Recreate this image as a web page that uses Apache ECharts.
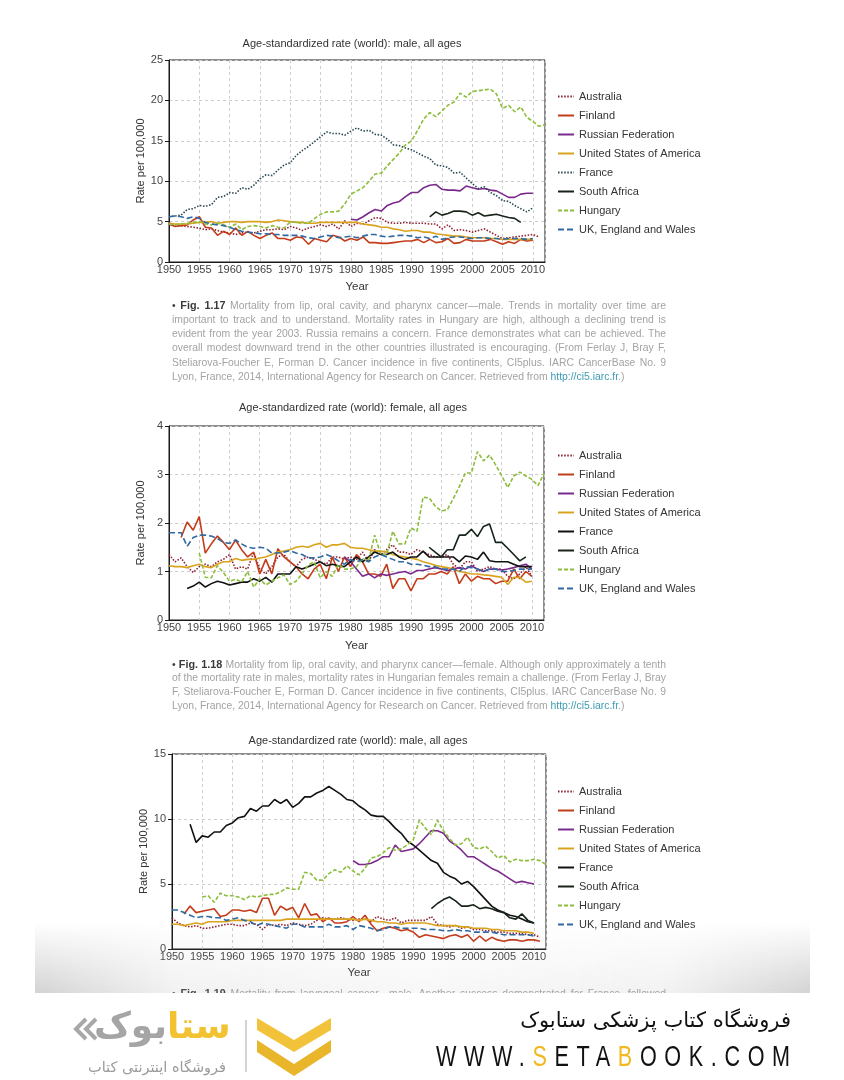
<!DOCTYPE html>
<html>
<head>
<meta charset="utf-8">
<script src="https://cdn.jsdelivr.net/npm/echarts@6/dist/echarts.min.js"></script>
<style>
  html,body{margin:0;padding:0;background:#fff;}
  body{width:844px;height:1080px;position:relative;overflow:hidden;font-family:"Liberation Sans",Arial,sans-serif;}
  .chart{position:absolute;left:0;width:844px;}
  .cap{position:absolute;left:172px;width:494px;height:14px;line-height:14px;font-size:10.4px;color:#a3a3a3;
       text-align:justify;text-align-last:justify;white-space:nowrap;overflow:visible;font-family:"Liberation Sans",Arial,sans-serif;}
  .cap.last{text-align-last:left;}
  .cap b{color:#3a3a3a;font-weight:bold;font-size:10.8px;}
  .cap .bul{color:#3a3a3a;}
  .cap a{color:#3d9bb3;text-decoration:none;}
  #shade{position:absolute;left:35px;top:922px;width:775px;height:71px;pointer-events:none;
     background:linear-gradient(to right, rgba(150,150,150,0.42) 0%, rgba(170,170,170,0.16) 18%, rgba(180,180,180,0.10) 50%, rgba(170,170,170,0.16) 82%, rgba(150,150,150,0.42) 100%);
     -webkit-mask-image:linear-gradient(to bottom, rgba(0,0,0,0) 0%, rgba(0,0,0,0.55) 55%, rgba(0,0,0,1) 100%);
     mask-image:linear-gradient(to bottom, rgba(0,0,0,0) 0%, rgba(0,0,0,0.55) 55%, rgba(0,0,0,1) 100%);}
  #footer{position:absolute;left:0;top:993px;width:844px;height:87px;background:#fff;}
  #fa1{position:absolute;right:53px;top:15px;font-size:21px;color:#111;direction:rtl;font-family:"DejaVu Sans",sans-serif;white-space:nowrap;}
  #www{position:absolute;left:436px;top:48px;font-size:30px;line-height:30px;color:#111;letter-spacing:10.6px;font-family:"Liberation Sans",Arial,sans-serif;white-space:nowrap;transform:scaleX(0.72);transform-origin:0 0;}
  #www span{color:#f0b920;}
  #logo1{position:absolute;left:94px;top:12px;font-size:36px;font-weight:bold;direction:rtl;font-family:"DejaVu Sans",sans-serif;white-space:nowrap;}
  #logo2{position:absolute;left:88px;top:66px;font-size:14.5px;color:#9a9a9a;direction:rtl;font-family:"DejaVu Sans",sans-serif;white-space:nowrap;}
</style>
</head>
<body>
<div id="c1" class="chart" style="top:30px;height:270px;"></div>
<div id="c2" class="chart" style="top:395px;height:265px;"></div>
<div id="c3" class="chart" style="top:728px;height:262px;"></div>

<div class="cap" style="top:298px;"><span class="bul">•</span> <b>Fig. 1.17</b> Mortality from lip, oral cavity, and pharynx cancer—male. Trends in mortality over time are</div>
<div class="cap" style="top:313px;">important to track and to understand. Mortality rates in Hungary are high, although a declining trend is</div>
<div class="cap" style="top:327px;">evident from the year 2003. Russia remains a concern. France demonstrates what can be achieved. The</div>
<div class="cap" style="top:341px;">overall modest downward trend in the other countries illustrated is encouraging. (From Ferlay J, Bray F,</div>
<div class="cap" style="top:356px;">Steliarova-Foucher E, Forman D. Cancer incidence in five continents, CI5plus. IARC CancerBase No. 9</div>
<div class="cap last" style="top:370px;">Lyon, France, 2014, International Agency for Research on Cancer. Retrieved from <a>http://ci5.iarc.fr</a>.)</div>

<div class="cap" style="top:657px;"><span class="bul">•</span> <b>Fig. 1.18</b> Mortality from lip, oral cavity, and pharynx cancer—female. Although only approximately a tenth</div>
<div class="cap" style="top:671px;">of the mortality rate in males, mortality rates in Hungarian females remain a challenge. (From Ferlay J, Bray</div>
<div class="cap" style="top:685px;">F, Steliarova-Foucher E, Forman D. Cancer incidence in five continents, CI5plus. IARC CancerBase No. 9</div>
<div class="cap last" style="top:699px;">Lyon, France, 2014, International Agency for Research on Cancer. Retrieved from <a>http://ci5.iarc.fr</a>.)</div>

<div class="cap" style="top:986px;"><span class="bul">•</span> <b>Fig. 1.19</b> Mortality from laryngeal cancer—male. Another success demonstrated for France, followed</div>

<div id="shade"></div>

<div id="footer">
  <svg width="844" height="87" style="position:absolute;left:0;top:0;">
    <polyline points="86,26 76,36 86,46" fill="none" stroke="#a8a8a8" stroke-width="4"/>
    <polyline points="96,26 86,36 96,46" fill="none" stroke="#a8a8a8" stroke-width="4"/>
    <line x1="246" y1="27" x2="246" y2="79" stroke="#c4c4c4" stroke-width="1.5"/>
    <polygon points="257,25 294,47 331,25 331,37 294,59 257,37" fill="#f2c33a"/>
    <polygon points="257,47 294,71 331,47 331,59 294,83 257,59" fill="#e9b52a"/>
  </svg>
  <div id="logo1"><span style="color:#f2c230">ستا</span><span style="color:#a5a5a5">بوک</span></div>
  <div id="logo2">فروشگاه اینترنتی کتاب</div>
  <div id="fa1">فروشگاه کتاب پزشکی ستابوک</div>
  <div id="www">WWW.<span>S</span>ETA<span>B</span>OOK.COM</div>
</div>

<script>
// ---------- Data: Fig 1.17 (male, lip/oral cavity/pharynx) ----------
const m1_australia_start = 1950;
const m1_australia = [4.8,4.6,4.5,4.4,4.3,4.2,4.0,4.1,3.9,3.7, 3.6,3.4,3.6,3.7,3.6,3.8,4.0,4.0,4.1,4.0, 4.4,4.2,3.9,4.2,4.4,4.6,4.4,4.7,4.1,5.1, 4.4,4.8,4.7,5.1,5.5,5.4,4.9,4.8,4.8,4.9, 4.8,4.8,4.8,4.7,4.7,4.1,4.6,3.9,4.0,3.9, 3.7,3.9,4.1,3.7,3.3,2.9,3.0,3.1,3.2,3.3, 3.4,3.1];
const m1_finland_start = 1950;
const m1_finland = [4.7,4.4,4.5,4.6,5.2,5.6,4.3,4.2,3.3,3.8, 3.4,4.2,3.3,3.8,3.3,2.9,3.3,3.6,2.9,2.9, 2.7,3.1,3.0,2.2,2.9,2.7,2.5,3.3,3.1,2.6, 2.9,2.7,3.1,2.4,2.4,2.3,2.3,2.4,2.5,2.6, 2.6,2.8,2.4,2.8,2.4,2.5,2.9,2.3,2.4,2.8, 2.6,2.6,2.6,2.8,2.5,2.2,2.5,2.3,2.8,2.6, 2.7];
const m1_russia_start = 1980;
const m1_russia = [5.3,5.2,5.6,6.1,6.5,6.3,7.0,7.3,7.5,8.1, 8.6,8.6,9.2,9.5,9.6,9.0,8.9,8.9,8.8,9.4, 9.2,9.0,9.1,8.9,8.8,8.4,8.0,8.0,8.4,8.5, 8.5];
const m1_usa_start = 1950;
const m1_usa = [4.8,4.7,4.7,4.7,4.8,4.9,4.9,5.0,4.8,4.9, 5.0,5.0,4.9,5.0,5.0,5.0,4.9,5.0,5.2,5.1, 5.0,4.9,4.9,4.8,4.8,4.9,4.9,4.9,4.9,4.9, 4.9,4.9,4.7,4.6,4.5,4.3,4.3,4.1,4.0,3.8, 3.9,3.9,3.7,3.7,3.5,3.4,3.3,3.2,3.2,3.1, 3.0,3.0,3.0,2.9,2.9,2.8,2.8,2.8,2.8,2.8, 2.8];
const m1_france_start = 1950;
const m1_france = [5.6,5.7,5.8,6.5,6.6,7.0,6.9,7.1,8.0,8.1, 8.6,8.5,9.2,9.0,9.5,10.3,10.8,10.7,11.4,12.0, 12.3,13.2,13.8,14.3,14.9,15.5,16.1,15.9,15.9,15.7, 16.2,16.6,16.2,16.3,15.8,15.7,15.2,14.5,14.4,14.1, 13.9,13.5,13.1,12.8,12.0,11.9,11.7,11.0,11.1,10.4, 9.7,9.1,9.3,8.6,8.2,7.6,7.5,7.0,6.6,6.2, 6.7];
const m1_safrica_start = 1993;
const m1_safrica = [5.6,6.2,5.8,6.0,6.3,6.3,6.2,5.8,6.1,5.7,5.8,5.9,5.7,5.5,5.4,4.9];
const m1_hungary_start = 1950;
const m1_hungary = [4.7,4.6,4.7,4.8,4.9,5.0,4.7,4.6,4.8,4.6, 4.3,4.7,4.0,4.4,4.5,4.4,4.2,4.5,4.3,4.2, 5.0,4.9,4.8,4.8,5.4,5.9,6.2,6.2,6.3,7.2, 8.4,8.8,9.2,10.0,10.9,11.0,11.9,12.7,13.5,14.5, 15.0,16.3,17.7,18.5,18.0,18.7,19.4,19.8,20.9,20.4, 21.1,21.2,21.3,21.4,20.8,19.0,19.4,18.6,19.2,17.9, 17.4,16.8,17.0];
const m1_uk_start = 1950;
const m1_uk = [5.6,5.7,5.6,5.4,5.6,5.4,4.9,4.7,4.6,4.5, 4.3,4.0,3.8,3.7,3.6,3.5,3.5,3.4,3.4,3.3, 3.3,3.3,3.2,3.0,2.9,3.1,3.3,3.2,3.0,3.1, 3.2,3.0,3.2,3.4,3.4,3.2,3.1,3.2,3.3,3.3, 3.2,3.0,3.1,2.9,3.2,2.8,3.0,3.1,3.1,3.0, 2.9,3.0,3.0,2.9,2.9,2.8,2.9,2.9,2.9,2.8, 2.9];

// ---------- Data: Fig 1.18 (female, lip/oral cavity/pharynx) ----------
const f_australia_start = 1950;
const f_australia = [1.35,1.2,1.28,1.1,0.98,1.1,1.15,1.1,1.2,1.25, 1.35,1.05,1.1,1.05,1.4,1.05,0.95,1.1,1.3,1.35, 1.2,1.1,1.25,1.3,1.25,1.2,1.15,1.3,1.3,1.25, 1.3,1.25,1.4,1.2,1.45,1.35,1.45,1.55,1.4,1.4, 1.35,1.45,1.4,1.35,1.3,1.3,1.35,1.15,1.05,1.2, 1.2,1.0,1.05,1.1,1.05,1.05,0.9,0.85,0.95,1.1, 0.9];
const f_finland_start = 1952;
const f_finland = [1.7,2.02,1.85,2.13,1.38,1.57,1.73,1.6,1.45,1.65, 1.45,1.3,1.4,0.95,1.25,0.95,1.47,1.3,1.2,1.1, 0.95,0.85,1.05,1.15,0.85,1.3,1.0,1.3,1.1,1.35, 1.2,0.95,0.95,0.9,1.15,0.65,0.85,0.85,0.6,0.85, 0.85,0.95,0.95,1.0,0.95,1.1,0.75,0.95,0.8,0.9, 0.85,0.85,0.75,0.8,0.8,1.05,0.85,1.0,0.9];
const f_russia_start = 1979;
const f_russia = [1.3,1.2,1.05,0.9,0.95,0.87,0.95,0.92,0.95,0.98, 1.0,0.95,1.02,1.02,1.05,1.08,1.05,1.02,1.05,1.08, 1.05,1.12,1.05,1.0,1.05,1.05,1.03,1.05,1.08,1.12, 1.15,1.05];
const f_usa_start = 1950;
const f_usa = [1.12,1.1,1.1,1.08,1.12,1.15,1.1,1.08,1.15,1.2, 1.2,1.27,1.23,1.25,1.25,1.28,1.3,1.35,1.4,1.42, 1.45,1.5,1.52,1.5,1.55,1.58,1.5,1.55,1.55,1.58, 1.5,1.48,1.48,1.45,1.42,1.42,1.4,1.35,1.32,1.3, 1.28,1.25,1.2,1.17,1.13,1.1,1.08,1.05,1.0,0.98, 0.95,0.95,0.93,0.92,0.9,0.88,0.73,0.88,0.88,0.78, 0.8];
const f_france_start = 1953;
const f_france = [0.65,0.7,0.78,0.68,0.75,0.8,0.77,0.72,0.75,0.78, 0.78,0.85,0.8,0.88,0.78,0.95,0.95,0.95,1.1,1.05, 1.1,1.15,1.2,1.12,1.15,1.12,1.1,1.2,1.3,1.2, 1.3,1.4,1.35,1.35,1.4,1.3,1.25,1.3,1.3,1.42, 1.3,1.3,1.3,1.3,1.3,1.2,1.32,1.3,1.25,1.4, 1.22,1.2,1.2,1.2,1.15,1.1,1.1,1.1];
const f_safrica_start = 1993;
const f_safrica = [1.5,1.4,1.3,1.45,1.45,1.75,1.75,1.87,1.72,1.93,1.98,1.6,1.6,1.48,1.35,1.22,1.3];
const f_hungary_start = 1955;
const f_hungary = [1.38,0.88,0.87,1.12,0.98,0.8,0.84,0.78,1.0,0.68, 0.85,0.72,0.8,0.87,0.93,0.73,0.8,0.95,1.13,1.2, 0.87,1.0,0.9,1.15,1.05,1.05,1.1,1.27,1.22,1.75, 1.35,1.35,1.83,1.57,1.57,1.9,1.83,2.53,2.52,2.35, 2.25,2.27,2.5,2.75,3.03,3.03,3.47,3.28,3.4,3.2, 2.98,2.73,2.97,3.05,2.97,2.9,2.77,3.02];
const f_uk_start = 1950;
const f_uk = [1.8,1.8,1.8,1.52,1.7,1.75,1.75,1.73,1.68,1.6, 1.58,1.65,1.57,1.5,1.48,1.5,1.48,1.38,1.38,1.4, 1.43,1.38,1.35,1.28,1.28,1.3,1.35,1.3,1.22,1.15, 1.25,1.2,1.25,1.2,1.3,1.35,1.3,1.25,1.2,1.2, 1.15,1.15,1.13,1.1,1.1,1.05,1.05,1.05,1.0,1.1, 1.08,1.05,1.0,1.05,1.05,1.0,1.0,1.02,1.05,1.05, 1.05];

// ---------- Data: Fig 1.19 (male, larynx) ----------
const l_australia_start = 1950;
const l_australia = [2.4,2.0,1.8,1.7,1.8,1.6,1.6,1.7,1.8,1.9, 1.9,1.8,1.8,2.0,1.9,1.5,1.9,1.8,1.9,1.8, 2.0,1.9,1.8,1.9,2.2,2.4,2.3,2.3,2.4,2.3, 2.2,2.3,2.3,2.1,2.5,2.3,2.2,2.4,2.0,2.2, 2.2,2.2,2.2,2.5,1.9,1.8,1.7,1.8,1.6,1.7, 1.5,1.5,1.4,1.4,1.3,1.3,1.2,1.2,1.2,1.1, 1.1,0.9];
const l_finland_start = 1952;
const l_finland = [2.7,3.3,2.8,2.9,3.0,3.1,2.5,2.6,3.0,3.0, 2.9,3.0,2.8,3.9,3.9,2.6,3.3,3.0,3.2,2.4, 3.5,2.6,2.7,2.1,2.4,2.0,2.0,2.1,2.5,2.1, 2.6,1.9,1.4,1.6,1.7,1.6,1.4,1.5,1.3,0.9, 1.1,1.0,0.9,0.8,1.0,1.1,0.9,1.1,0.6,1.0, 0.6,0.9,0.7,0.6,0.7,0.7,0.6,0.7,0.7,0.6];
const l_russia_start = 1980;
const l_russia = [6.8,6.5,6.5,6.6,6.8,7.1,7.1,8.0,7.5,7.6, 7.7,8.1,8.6,9.1,9.1,8.9,8.3,8.0,7.6,7.1, 7.1,6.8,6.5,6.2,6.0,5.7,5.4,5.1,5.2,5.1, 5.0];
const l_usa_start = 1950;
const l_usa = [1.9,1.9,1.8,1.9,2.0,1.9,2.1,2.1,2.1,2.1, 2.2,2.2,2.2,2.2,2.2,2.2,2.2,2.2,2.2,2.3, 2.3,2.3,2.3,2.3,2.3,2.3,2.3,2.3,2.3,2.3, 2.3,2.2,2.3,2.2,2.1,2.1,2.0,2.0,1.9,2.0, 2.0,2.0,2.0,1.9,1.8,1.8,1.8,1.8,1.7,1.7, 1.6,1.6,1.6,1.5,1.5,1.4,1.4,1.4,1.3,1.3, 1.2];
const l_france_start = 1953;
const l_france = [9.6,8.2,8.7,8.6,9.0,9.0,9.5,9.7,10.1,10.2, 10.8,10.6,11.0,11.0,11.5,11.2,11.5,10.9,11.2,11.7, 11.7,12.0,12.2,12.5,12.2,11.9,11.5,11.4,11.0,10.7, 10.3,10.2,10.2,9.8,9.3,8.9,8.3,8.0,7.6,7.2, 6.8,6.6,5.9,5.6,5.4,5.0,5.2,4.8,4.3,3.8, 3.3,3.0,2.8,2.6,2.5,2.3,2.1,2.0];
const l_safrica_start = 1993;
const l_safrica = [3.1,3.5,3.8,4.0,3.7,3.3,3.3,3.4,3.1,3.2,3.1,2.9,2.8,2.4,2.3,2.7,2.2,2.0];
const l_hungary_start = 1955;
const l_hungary = [4.0,4.1,3.6,4.3,4.1,4.1,4.0,3.8,4.1,4.0, 4.1,4.2,4.2,4.4,4.7,4.6,4.6,5.9,5.8,5.3, 5.3,5.8,6.1,5.9,6.4,6.0,5.7,6.2,7.0,7.1, 7.4,7.8,7.6,7.7,8.0,8.4,9.9,9.3,8.8,9.9, 9.1,8.5,8.0,8.1,8.6,7.8,7.7,7.9,7.5,7.0, 7.2,6.7,6.9,6.8,6.8,6.9,6.8,6.5];
const l_uk_start = 1950;
const l_uk = [3.0,3.0,2.8,2.6,2.4,2.5,2.5,2.4,2.4,2.2, 2.3,2.4,2.2,2.1,1.8,2.0,1.9,1.8,1.7,1.6, 1.9,1.9,1.7,1.7,1.7,1.7,1.9,1.7,1.7,1.8, 1.5,1.8,1.7,1.6,1.4,1.5,1.7,1.7,1.6,1.6, 1.6,1.6,1.5,1.5,1.5,1.4,1.4,1.5,1.4,1.4, 1.3,1.3,1.3,1.3,1.2,1.1,1.1,1.1,1.1,1.1, 1.0];

const countryNames = ['Australia','Finland','Russian Federation','United States of America','France','South Africa','Hungary','UK, England and Wales'];
const titleMale = 'Age-standardized rate (world): male, all ages';
const titleFemale = 'Age-standardized rate (world): female, all ages';
const yAxisTitle = 'Rate per 100,000';
const xAxisTitle = 'Year';

// ---------- Styles ----------
const FONT = '"Liberation Sans", Arial, sans-serif';
const DOT = [1.5, 1.6];
const DASH_H = [4, 2];
const DASH_UK = [6, 3];

function pairs(start, arr){ return arr.map((v,i)=>[start+i, v]); }

function buildChart(id, o){
  const chart = echarts.init(document.getElementById(id), null, {renderer:'canvas'});
  const series = o.series.map(s => ({
    name: s.name, type:'line', data: pairs(s.start, s.data),
    showSymbol:false, symbol:'none', smooth:false, animation:false,
    lineStyle:{color:s.color, width:1.6, type:s.dash || 'solid'},
    itemStyle:{color:s.color}, z: s.z || 2
  }));
  chart.setOption({
    animation:false,
    textStyle:{fontFamily:FONT},
    graphic:[{type:'text', x:o.titleX, y:o.titleY,
      style:{text:o.title, font:'11px '+FONT, fill:'#333', textAlign:'center', textVerticalAlign:'middle'}}],
    legend:{orient:'vertical', left:557, top:o.legendTop, padding:0,
      itemWidth:16, itemHeight:10, itemGap:8, selectedMode:false,
      itemStyle:{opacity:0, borderWidth:0},
      textStyle:{fontSize:11, color:'#333', lineHeight:10, fontFamily:FONT},
      data: countryNames},
    grid:{left:o.grid[0], top:o.grid[1], width:o.grid[2], height:o.grid[3], show:true, borderColor:'#1a1a1a', borderWidth:1, backgroundColor:'transparent'},
    xAxis:{type:'value', min:1950, max:2012, interval:5,
      name:xAxisTitle, nameLocation:'middle', nameGap:o.xNameGap,
      nameTextStyle:{fontSize:11.5, color:'#333', fontFamily:FONT},
      axisLine:{show:true, lineStyle:{color:'#1a1a1a', width:1}},
      axisTick:{show:false},
      axisLabel:{fontSize:11, color:'#444', margin:2, showMaxLabel:false,
        formatter: v => (v % 5 === 0 ? String(v) : '')},
      splitLine:{show:true, lineStyle:{color:'#cdcdcd', type:[3,3], width:1}}},
    yAxis:{type:'value', min:0, max:o.yMax, interval:o.yInt,
      name:yAxisTitle, nameLocation:'middle', nameGap:23, nameRotate:90,
      nameTextStyle:{fontSize:11, color:'#333', fontFamily:FONT},
      axisLine:{show:true, lineStyle:{color:'#1a1a1a', width:1}},
      axisTick:{show:true, length:4, lineStyle:{color:'#1a1a1a'}},
      axisLabel:{fontSize:11, color:'#444', margin:6},
      splitLine:{show:true, lineStyle:{color:'#cdcdcd', type:[3,3], width:1}}},
    series: series
  });
}

const C = {
  australia:'#8e1f2f', finland:'#c43c1a', russia:'#7b2a8c', usa:'#d9a31e',
  france1:'#2c4a56', france:'#121212', safrica:'#17241a', hungary:'#8dbd3c', uk:'#2f6aa3'
};

buildChart('c1', {
  title:titleMale, titleX:352, titleY:14, legendTop:61, grid:[169,30,376,202], yMax:25, yInt:5, xNameGap:19,
  series:[
    {name:countryNames[0], start:m1_australia_start, data:m1_australia, color:C.australia, dash:DOT},
    {name:countryNames[1], start:m1_finland_start, data:m1_finland, color:C.finland},
    {name:countryNames[2], start:m1_russia_start, data:m1_russia, color:C.russia},
    {name:countryNames[3], start:m1_usa_start, data:m1_usa, color:C.usa},
    {name:countryNames[4], start:m1_france_start, data:m1_france, color:C.france1, dash:DOT},
    {name:countryNames[5], start:m1_safrica_start, data:m1_safrica, color:C.safrica},
    {name:countryNames[6], start:m1_hungary_start, data:m1_hungary, color:C.hungary, dash:DASH_H},
    {name:countryNames[7], start:m1_uk_start, data:m1_uk, color:C.uk, dash:DASH_UK}
  ]
});

buildChart('c2', {
  title:titleFemale, titleX:353, titleY:13, legendTop:55, grid:[169,31,375,194], yMax:4, yInt:1, xNameGap:20,
  series:[
    {name:countryNames[0], start:f_australia_start, data:f_australia, color:C.australia, dash:DOT},
    {name:countryNames[1], start:f_finland_start, data:f_finland, color:C.finland},
    {name:countryNames[2], start:f_russia_start, data:f_russia, color:C.russia},
    {name:countryNames[3], start:f_usa_start, data:f_usa, color:C.usa},
    {name:countryNames[4], start:f_france_start, data:f_france, color:C.france},
    {name:countryNames[5], start:f_safrica_start, data:f_safrica, color:C.safrica},
    {name:countryNames[6], start:f_hungary_start, data:f_hungary, color:C.hungary, dash:DASH_H},
    {name:countryNames[7], start:f_uk_start, data:f_uk, color:C.uk, dash:DASH_UK}
  ]
});

buildChart('c3', {
  title:titleMale, titleX:358, titleY:13, legendTop:58, grid:[172,26,374,195], yMax:15, yInt:5, xNameGap:18,
  series:[
    {name:countryNames[0], start:l_australia_start, data:l_australia, color:C.australia, dash:DOT},
    {name:countryNames[1], start:l_finland_start, data:l_finland, color:C.finland},
    {name:countryNames[2], start:l_russia_start, data:l_russia, color:C.russia},
    {name:countryNames[3], start:l_usa_start, data:l_usa, color:C.usa},
    {name:countryNames[4], start:l_france_start, data:l_france, color:C.france},
    {name:countryNames[5], start:l_safrica_start, data:l_safrica, color:C.safrica},
    {name:countryNames[6], start:l_hungary_start, data:l_hungary, color:C.hungary, dash:DASH_H},
    {name:countryNames[7], start:l_uk_start, data:l_uk, color:C.uk, dash:DASH_UK}
  ]
});
</script>
</body>
</html>
